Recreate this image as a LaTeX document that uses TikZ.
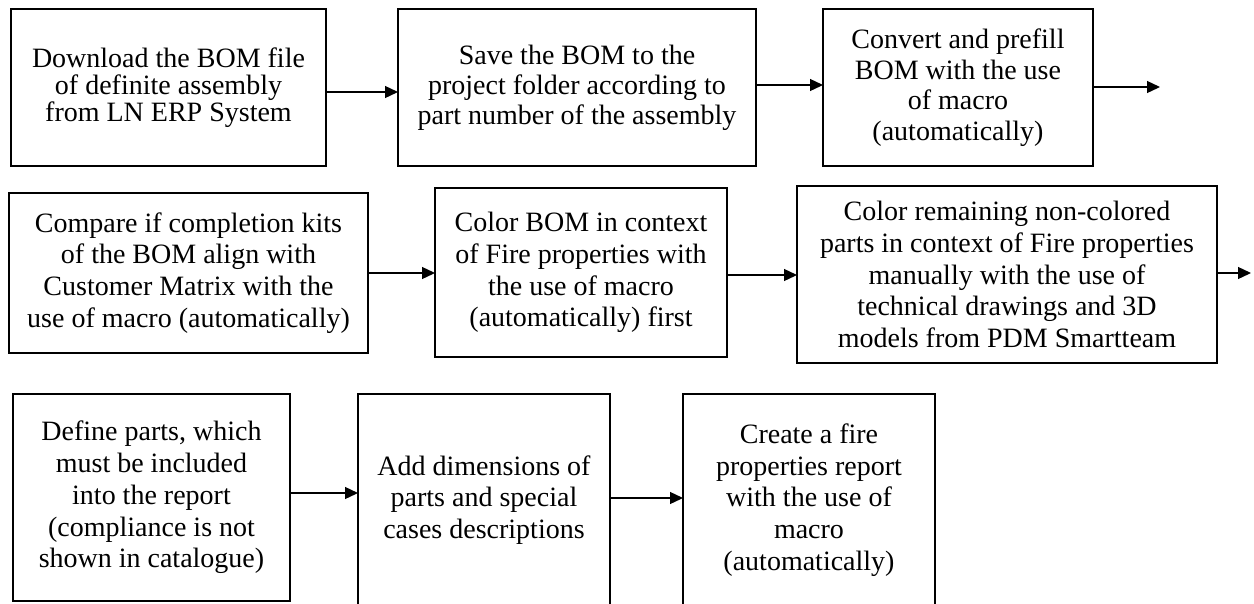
\documentclass[tikz,border=0pt]{standalone}
\usepackage{fontspec}
\setmainfont{Liberation Serif}
\usetikzlibrary{arrows.meta}

\tikzset{
  stepbox/.style={draw=black, line width=1.5pt, inner sep=0pt, outer sep=0pt,
    align=center, font=\fontsize{28}{31.7}\selectfont},
  arr/.style={line width=1.3pt, -{Triangle[length=13pt,width=12pt]}},
}

\begin{document}
\begin{tikzpicture}[x=1pt,y=-1pt]
\useasboundingbox (0,0) rectangle (1254,603);

% first row
\node[stepbox, minimum width=315pt, minimum height=157pt,
      font=\fontsize{28}{27}\selectfont] (A) at (168.5,87.5)
  {Download the BOM file\\of definite assembly\\from LN ERP System};
\node[stepbox, minimum width=358pt, minimum height=157pt,
      font=\fontsize{28}{30}\selectfont] (B) at (577,87.5)
  {Save the BOM to the\\project folder according to\\part number of the assembly};
\node[stepbox, minimum width=270pt, minimum height=157pt,
      font=\fontsize{28}{30.5}\selectfont] (C) at (958,87.5)
  {Convert and prefill\\BOM with the use\\of macro\\(automatically)};

% second row
\node[stepbox, minimum width=359pt, minimum height=160pt] (D) at (188.5,273)
  {Compare if completion kits\\of the BOM align with\\Customer Matrix with the\\use of macro (automatically)};
\node[stepbox, minimum width=292pt, minimum height=169pt] (E) at (581,272.5)
  {Color BOM in context\\of Fire properties with\\the use of macro\\(automatically) first};
\node[stepbox, minimum width=420pt, minimum height=177pt] (F) at (1007,274.5)
  {Color remaining non-colored\\parts in context of Fire properties\\manually with the use of\\technical drawings and 3D\\models from PDM Smartteam};

% third row
\node[stepbox, minimum width=277pt, minimum height=207pt] (G) at (151.5,497.5)
  {Define parts, which\\must be included\\into the report\\(compliance is not\\shown in catalogue)};
\node[stepbox, minimum width=252pt, minimum height=212pt] (H) at (484,500)
  {Add dimensions of\\parts and special\\cases descriptions};
\node[stepbox, minimum width=252pt, minimum height=212pt] (I) at (809,500)
  {Create a fire\\properties report\\with the use of\\macro\\(automatically)};

% start points of the connectors on the box sides
\coordinate (a1) at ([yshift=-4.5pt]A.east);
\coordinate (b1) at ([yshift=2.5pt]B.east);
\coordinate (e1) at ([yshift=-2.5pt]E.east);
\coordinate (f1) at ([yshift=1.5pt]F.east);
\coordinate (g1) at ([yshift=4.5pt]G.east);
\coordinate (h1) at ([yshift=2pt]H.east);

% open ends of the rows
\coordinate (c1) at (1160,87);
\coordinate (c2) at (1251,273);

% connectors
\draw[arr] (a1) -- (B.west |- a1);
\draw[arr] (b1) -- (C.west |- b1);
\draw[arr] (C.east |- c1) -- (c1);
\draw[arr] (D.east) -- (E.west |- D.east);
\draw[arr] (e1) -- (F.west |- e1);
\draw[arr] (f1) -- (c2);
\draw[arr] (g1) -- (H.west |- g1);
\draw[arr] (h1) -- (I.west |- h1);
\end{tikzpicture}
\end{document}
